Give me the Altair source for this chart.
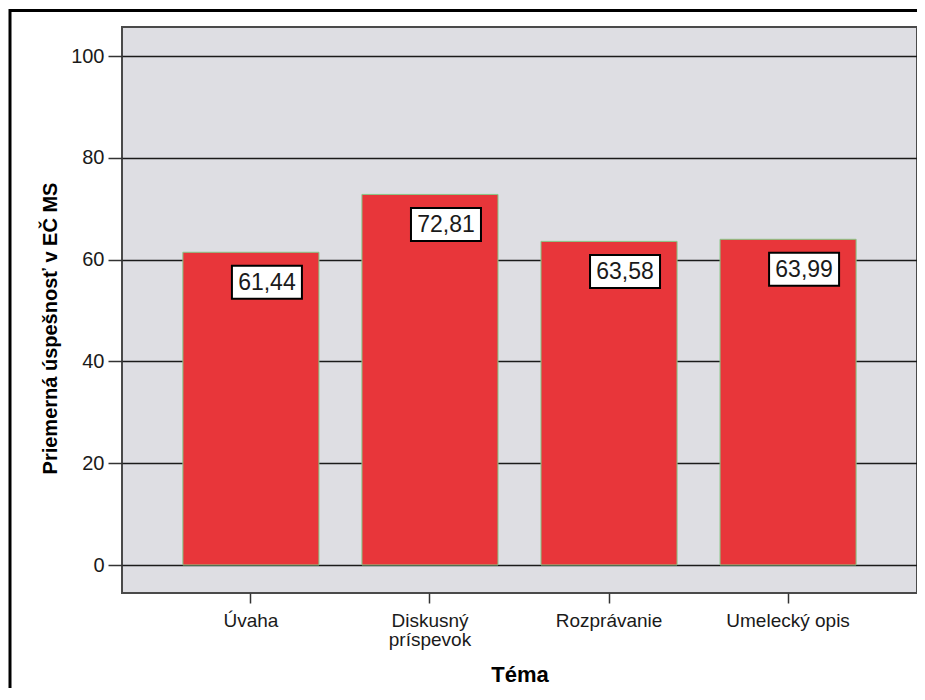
import altair as alt
import pandas as pd

temy = ["Úvaha", "Diskusný príspevok", "Rozprávanie", "Umelecký opis"]
uspesnost = [61.44, 72.81, 63.58, 63.99]
y_ticks = [0, 20, 40, 60, 80, 100]

df = pd.DataFrame({"tema": temy, "value": uspesnost})
FONT = "Liberation Sans"

x_enc = alt.X(
    "tema:N",
    sort=temy,
    scale=alt.Scale(paddingInner=0.24, paddingOuter=0.34),
    axis=alt.Axis(
        title="Téma",
        titleFont=FONT, titleFontSize=22, titleFontWeight="bold", titleColor="#000",
        titleY=88, titleBaseline="alphabetic",
        labelFont=FONT, labelFontSize=19, labelColor="#1a1a1a", labelAngle=0,
        labelPadding=8, labelLineHeight=19,
        labelExpr="length(datum.label) > 15 ? split(datum.label, ' ') : datum.label",
        tickSize=10, tickColor="#333", tickWidth=1.5, domain=False, grid=False,
    ),
)
y_enc = alt.Y(
    "value:Q",
    scale=alt.Scale(domain=[-5.5, 105.7], nice=False, zero=False),
    axis=alt.Axis(
        title="Priemerná úspešnosť v EČ MS",
        titleFont=FONT, titleFontSize=20, titleFontWeight="bold", titleColor="#000",
        titleAngle=270, titleX=-72, titleY=301, titleAlign="center", titleBaseline="middle",
        values=y_ticks, labelFont=FONT, labelFontSize=20, labelColor="#1a1a1a",
        labelPadding=4, tickSize=14, tickColor="#333", tickWidth=1.5,
        domain=False, grid=True, gridColor="#1a1a1a", gridWidth=1.5,
    ),
)

base = alt.Chart(df)
bars = base.mark_bar(color="#E8363A", stroke="#86C886", strokeWidth=1).encode(x=x_enc, y=y_enc)
boxes = base.mark_point(
    shape="M-1,-0.4714L1,-0.4714L1,0.4714L-1,0.4714Z", size=4900,
    filled=True, fill="white", stroke="black", strokeWidth=2, opacity=1,
    xOffset=16, yOffset=30,
).encode(x=alt.X("tema:N", sort=temy), y="value:Q")
texts = base.mark_text(
    font=FONT, fontSize=23, color="#1a1a1a", align="center", baseline="middle",
    xOffset=16, yOffset=31,
).transform_calculate(
    lab="replace(format(datum.value, '.2f'), '.', ',')"
).encode(x=alt.X("tema:N", sort=temy), y="value:Q", text="lab:N")

frame = alt.Chart(pd.DataFrame({"a": [0]})).mark_rect(
    fill="white", fillOpacity=0, stroke="black", strokeWidth=3, clip=False
).encode(x=alt.value(-112), x2=alt.value(900), y=alt.value(-16.5), y2=alt.value(720))

chart = alt.layer(frame, bars, boxes, texts).properties(
    width=795, height=566,
    autosize=alt.AutoSizeParams(type="none"),
    padding={"left": 114, "top": 19, "right": 0, "bottom": 95},
    background="white",
).configure_view(
    fill="#DEDEE3", stroke="#4a4a4a", strokeWidth=2
)

chart.save("out.html", embed_options={"renderer": "svg", "actions": False})
